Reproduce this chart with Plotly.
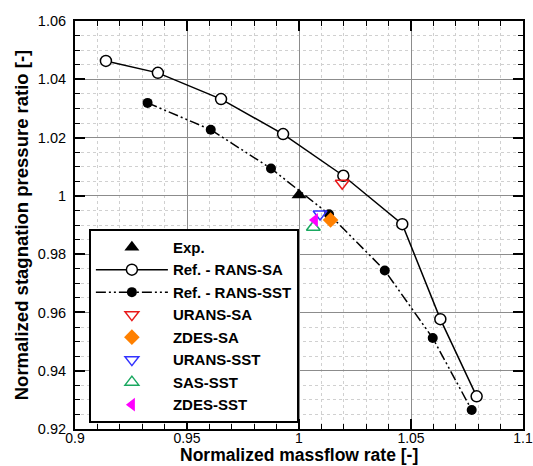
import plotly.graph_objects as go

# ---- data ----
exp_x = [1.0]
exp_y = [1.0003]

sa_x = [0.9138, 0.9370, 0.9652, 0.9929, 1.0198, 1.0461, 1.0631, 1.0793]
sa_y = [1.0463, 1.0422, 1.0332, 1.0212, 1.0069, 0.9903, 0.9577, 0.9312]

sst_x = [0.9324, 0.9606, 0.9875, 1.0134, 1.0383, 1.0597, 1.0771]
sst_y = [1.0319, 1.0227, 1.0094, 0.9937, 0.9744, 0.9512, 0.9265]

urans_sa_x = [1.0193]
urans_sa_y = [1.0043]
zdes_sa_x = [1.0141]
zdes_sa_y = [0.9917]
urans_sst_x = [1.0094]
urans_sst_y = [0.9938]
sas_sst_x = [1.0064]
sas_sst_y = [0.9892]
zdes_sst_x = [1.0071]
zdes_sst_y = [0.9917]

x_ticks = [0.9, 0.95, 1.0, 1.05, 1.1]
x_labels = ["0.9", "0.95", "1", "1.05", "1.1"]
y_ticks = [0.92, 0.94, 0.96, 0.98, 1.0, 1.02, 1.04, 1.06]
y_labels = ["0.92", "0.94", "0.96", "0.98", "1", "1.02", "1.04", "1.06"]

x_title = "Normalized massflow rate [-]"
y_title = "Normalized stagnation pressure ratio [-]"

FONT = "Liberation Sans, Arial, sans-serif"

fig = go.Figure()
fig.add_trace(go.Scatter(x=exp_x, y=exp_y, mode="markers", name="Exp.",
                         marker=dict(symbol="triangle-up", size=13, color="black")))
fig.add_trace(go.Scatter(x=sa_x, y=sa_y, mode="lines+markers", name="Ref. - RANS-SA",
                         line=dict(color="black", width=1.5),
                         marker=dict(symbol="circle", size=11, color="white",
                                     line=dict(color="black", width=1.5))))
fig.add_trace(go.Scatter(x=sst_x, y=sst_y, mode="lines+markers", name="Ref. - RANS-SST",
                         line=dict(color="black", width=1.5, dash="10px,3px,2px,3px,2px,3px"),
                         marker=dict(symbol="circle", size=10, color="black")))
fig.add_trace(go.Scatter(x=urans_sa_x, y=urans_sa_y, mode="markers", name="URANS-SA",
                         marker=dict(symbol="triangle-down-open", size=12, color="#e8191a",
                                     line=dict(width=1.5))))
fig.add_trace(go.Scatter(x=zdes_sa_x, y=zdes_sa_y, mode="markers", name="ZDES-SA",
                         marker=dict(symbol="diamond", size=12, color="#ff8000")))
fig.add_trace(go.Scatter(x=urans_sst_x, y=urans_sst_y, mode="markers", name="URANS-SST",
                         marker=dict(symbol="triangle-down-open", size=12, color="#3333ff",
                                     line=dict(width=1.5))))
fig.add_trace(go.Scatter(x=sas_sst_x, y=sas_sst_y, mode="markers", name="SAS-SST",
                         marker=dict(symbol="triangle-up-open", size=12, color="#1aa860",
                                     line=dict(width=1.5))))
fig.add_trace(go.Scatter(x=zdes_sst_x, y=zdes_sst_y, mode="markers", name="ZDES-SST",
                         marker=dict(symbol="triangle-left", size=12, color="#ff00ff")))

axis_common = dict(
    showline=True, linecolor="black", linewidth=2, mirror="allticks",
    ticks="inside", ticklen=10, tickwidth=1.5, tickcolor="black",
    showgrid=True, gridcolor="#8c8c8c", gridwidth=1,
    zeroline=False, automargin=False,
)

fig.update_xaxes(
    range=[0.9, 1.1], tickvals=x_ticks, ticktext=x_labels,
    tickfont=dict(family=FONT, size=14, color="black"),
    ticklabelstandoff=-5,
    minor=dict(dtick=0.01, ticks="inside", ticklen=5, tickcolor="black", tickwidth=1,
               showgrid=True, gridcolor="#d0d0d0", griddash="dot", gridwidth=1),
    **axis_common)
fig.update_yaxes(
    range=[0.92, 1.06], tickvals=y_ticks, ticktext=y_labels,
    tickfont=dict(family=FONT, size=14.5, color="black"),
    ticklabelstandoff=4,
    title=dict(text=y_title, standoff=4,
               font=dict(family=FONT, size=18.5, color="black", weight="bold")),
    minor=dict(dtick=0.005, ticks="inside", ticklen=5, tickcolor="black", tickwidth=1,
               showgrid=True, gridcolor="#d0d0d0", griddash="dot", gridwidth=1),
    **axis_common)

fig.add_annotation(text=x_title, xref="paper", yref="paper", x=0.5, y=-37 / 408,
                   xanchor="center", yanchor="bottom", showarrow=False, borderpad=0,
                   font=dict(family=FONT, size=17.5, color="black", weight="bold"))

fig.update_layout(
    width=533, height=466,
    margin=dict(l=75, r=10, t=21, b=37),
    plot_bgcolor="white", paper_bgcolor="white",
    font=dict(family=FONT, color="black"),
    legend=dict(x=0.031, y=0.015, xanchor="left", yanchor="bottom",
                bgcolor="white", bordercolor="black", borderwidth=2,
                itemwidth=72,
                font=dict(family=FONT, size=15, color="black", weight="bold")),
)

fig.write_html("out.html")
